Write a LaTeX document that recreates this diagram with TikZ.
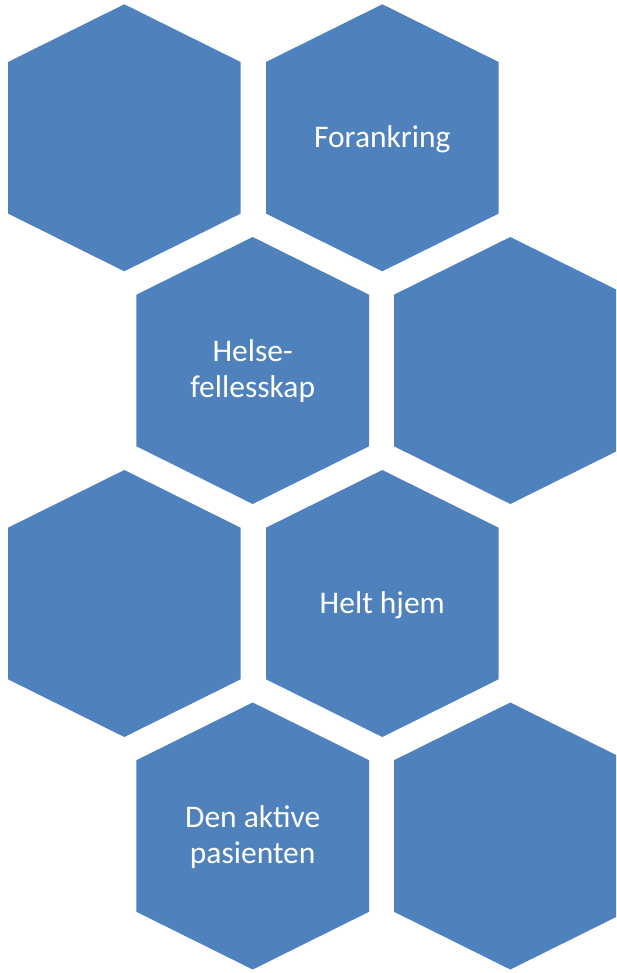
\documentclass[tikz,border=0pt]{standalone}
\usepackage{fontspec}
\setmainfont{Carlito}
\definecolor{hexblue}{HTML}{4F81BD}
\tikzset{
  hexa/.pic={\fill[hexblue] (0,-133.5) -- (116.3,-75.8) -- (116.3,75.8) -- (0,133.5) -- (-116.3,75.8) -- (-116.3,-75.8) -- cycle;},
  lbl/.style={text=white, align=center, font=\fontsize{31.5}{36}\selectfont, inner sep=0pt}
}
\begin{document}
\begin{tikzpicture}[x=1pt,y=-1pt]
\useasboundingbox (0,0) rectangle (616,973);
\clip (0,0) rectangle (616,973);
\pic at (124.3,137.8) {hexa};
\pic at (382.3,137.8) {hexa};
\pic at (252.7,370.5) {hexa};
\pic at (510.3,370.5) {hexa};
\pic at (124.3,603.5) {hexa};
\pic at (382.3,603.5) {hexa};
\pic at (252.7,836) {hexa};
\pic at (510.3,836) {hexa};
\node[lbl] (forankring) at (382.3,139) {Forankring};
\node[lbl] (helse) at (252.7,371) {Helse-\\fellesskap};
\node[lbl] (hjem) at (382.3,605) {Helt hjem};
\node[lbl] (aktive) at (252.7,837) {Den aktive\\pasienten};
\end{tikzpicture}
\end{document}
